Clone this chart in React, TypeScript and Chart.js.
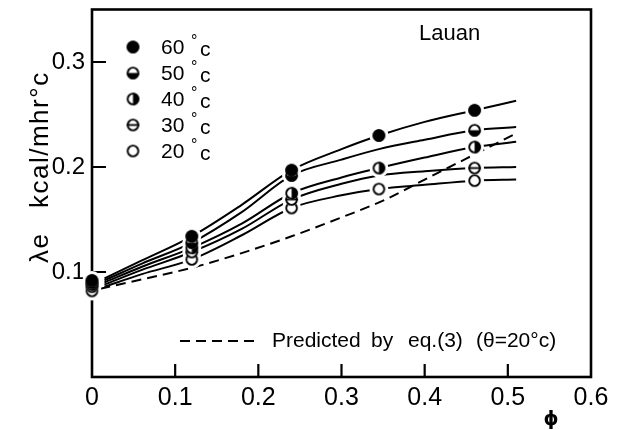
import { useEffect, useRef } from "react";
import { Chart, registerables } from "chart.js";
Chart.register(...registerables);

// ---- data ----
const xTicks = [0, 0.1, 0.2, 0.3, 0.4, 0.5, 0.6];
const yTicks = [0.1, 0.2, 0.3];
const seriesTemps = ["60", "50", "40", "30", "20"];
const markerKinds = ["full", "bottom", "right", "theta", "open"];

// smooth curves
const curvePhi = [0.015, 0.06, 0.12, 0.18, 0.24, 0.3, 0.345, 0.4, 0.46, 0.51];
const curve60 = [0.094, 0.111, 0.134, 0.164, 0.197, 0.217, 0.23, 0.243, 0.254, 0.263];
const curve50 = [0.092, 0.108, 0.128, 0.157, 0.192, 0.207, 0.217, 0.226, 0.235, 0.238];
const curve40 = [0.09, 0.105, 0.123, 0.146, 0.175, 0.19, 0.199, 0.209, 0.219, 0.224];
const curve30 = [0.088, 0.102, 0.119, 0.141, 0.169, 0.184, 0.192, 0.196, 0.199, 0.2];
const curve20 = [0.086, 0.098, 0.112, 0.135, 0.161, 0.173, 0.179, 0.183, 0.187, 0.188];

// predicted by eq.(3)
const predictedPhi = [0.01, 0.06, 0.12, 0.18, 0.24, 0.3, 0.35, 0.4, 0.45, 0.51];
const predicted = [0.084, 0.093, 0.104, 0.118, 0.134, 0.152, 0.168, 0.188, 0.208, 0.232];

// measured points
const pts60Phi = [0, 0.12, 0.24, 0.345, 0.46];
const pts60 = [0.092, 0.134, 0.197, 0.23, 0.254];
const pts50Phi = [0, 0.12, 0.24, 0.46];
const pts50 = [0.09, 0.128, 0.192, 0.235];
const pts40Phi = [0, 0.12, 0.24, 0.345, 0.46];
const pts40 = [0.088, 0.123, 0.175, 0.199, 0.219];
const pts30Phi = [0, 0.12, 0.24, 0.46];
const pts30 = [0.086, 0.119, 0.169, 0.199];
const pts20Phi = [0, 0.12, 0.24, 0.345, 0.46];
const pts20 = [0.082, 0.112, 0.161, 0.179, 0.187];

const curves = [curve60, curve50, curve40, curve30, curve20];
const ptsPhi = [pts60Phi, pts50Phi, pts40Phi, pts30Phi, pts20Phi];
const ptsVal = [pts60, pts50, pts40, pts30, pts20];

const toXY = (xs: number[], ys: number[]) => xs.map((x, i) => ({ x, y: ys[i] }));

function makeMarker(kind: string, r = 6.3) {
  const size = Math.ceil(r * 2 + 4);
  const c = document.createElement("canvas");
  c.width = size;
  c.height = size;
  const ctx = c.getContext("2d")!;
  const cx = size / 2;
  const cy = size / 2;
  ctx.fillStyle = "#fff";
  ctx.beginPath();
  ctx.arc(cx, cy, r, 0, Math.PI * 2);
  ctx.fill();
  ctx.fillStyle = "#000";
  ctx.strokeStyle = "#000";
  if (kind === "full") {
    ctx.beginPath();
    ctx.arc(cx, cy, r, 0, Math.PI * 2);
    ctx.fill();
  } else if (kind === "bottom") {
    ctx.beginPath();
    ctx.arc(cx, cy, r, 0, Math.PI);
    ctx.closePath();
    ctx.fill();
  } else if (kind === "right") {
    ctx.beginPath();
    ctx.arc(cx, cy, r, -Math.PI / 2, Math.PI / 2);
    ctx.closePath();
    ctx.fill();
  } else if (kind === "theta") {
    ctx.lineWidth = 1.8;
    ctx.beginPath();
    ctx.moveTo(cx - r, cy);
    ctx.lineTo(cx + r, cy);
    ctx.stroke();
  }
  ctx.lineWidth = 1.9;
  ctx.beginPath();
  ctx.arc(cx, cy, r - 0.95, 0, Math.PI * 2);
  ctx.stroke();
  return c;
}

export default function App() {
  const ref = useRef<HTMLCanvasElement | null>(null);
  useEffect(() => {
    document.body.style.margin = "0";
    const canvas = ref.current!;
    const markers = markerKinds.map((k) => makeMarker(k));
    const legendMarkers = markerKinds.map((k) => makeMarker(k, 6.3));
    const font = "'Liberation Sans', Arial, sans-serif";

    const lineSets: any[] = curves.map((c, i) => ({
      label: seriesTemps[i] + " °c curve",
      data: toXY(curvePhi, c),
      borderColor: "#000",
      borderWidth: 2,
      pointRadius: 0,
      cubicInterpolationMode: "monotone",
      fill: false,
    }));
    lineSets.push({
      label: "Predicted",
      data: toXY(predictedPhi, predicted),
      borderColor: "#000",
      borderWidth: 2,
      borderDash: [10, 6],
      pointRadius: 0,
      cubicInterpolationMode: "monotone",
      fill: false,
    });
    const haloSets = ptsPhi.map((xs, i) => ({
      label: seriesTemps[i] + " halo",
      data: toXY(xs, ptsVal[i]),
      showLine: false,
      pointStyle: "circle",
      pointRadius: 9.5,
      pointBackgroundColor: "#fff",
      pointBorderWidth: 0,
      borderWidth: 0,
      clip: false,
    }));
    const markerSets = ptsPhi.map((xs, i) => ({
      label: seriesTemps[i] + " °c",
      data: toXY(xs, ptsVal[i]),
      showLine: false,
      pointStyle: markers[i],
      pointRadius: 6,
      clip: false,
    }));

    const frame = {
      id: "frame",
      beforeDatasetsDraw(chart: any) {
        const { ctx, chartArea: a, scales } = chart;
        ctx.save();
        ctx.strokeStyle = "#000";
        ctx.lineWidth = 2.6;
        ctx.strokeRect(a.left, a.top, a.right - a.left, a.bottom - a.top);
        ctx.lineWidth = 2.2;
        ctx.beginPath();
        xTicks.forEach((v) => {
          if (v <= 0 || v >= 0.6) return;
          const px = scales.x.getPixelForValue(v);
          ctx.moveTo(px, a.bottom);
          ctx.lineTo(px, a.bottom - 13);
        });
        yTicks.forEach((v) => {
          const py = scales.y.getPixelForValue(v);
          ctx.moveTo(a.left, py);
          ctx.lineTo(a.left + 14, py);
        });
        ctx.stroke();
        ctx.restore();
      },
      afterDraw(chart: any) {
        const { ctx } = chart;
        ctx.save();
        ctx.fillStyle = "#000";
        ctx.strokeStyle = "#000";
        ctx.textBaseline = "middle";
        ctx.textAlign = "left";
        // legend
        const rows = [47, 73, 99, 125, 151];
        rows.forEach((y, i) => {
          const m = legendMarkers[i];
          ctx.drawImage(m, 133 - m.width / 2, y - m.height / 2);
          ctx.font = `21px ${font}`;
          ctx.fillText(seriesTemps[i], 161, y + 1);
          ctx.font = `16px ${font}`;
          ctx.fillText("°", 191, y - 5);
          ctx.font = `21px ${font}`;
          ctx.fillText("c", 200, y + 3);
        });
        // title
        ctx.font = `22px ${font}`;
        ctx.fillText("Lauan", 419, 34);
        // predicted legend
        ctx.save();
        ctx.strokeStyle = "#000";
        ctx.lineWidth = 2;
        ctx.setLineDash([10, 6]);
        ctx.beginPath();
        ctx.moveTo(180, 341);
        ctx.lineTo(260, 341);
        ctx.stroke();
        ctx.restore();
        ctx.font = `21px ${font}`;
        ctx.fillText("Predicted", 272, 341);
        ctx.fillText("by", 371, 341);
        ctx.fillText("eq.(3)", 408, 341);
        ctx.fillText("(θ=20°c)", 476, 341);
        // x-axis title
        ctx.textAlign = "center";
        ctx.font = `bold 19px 'DejaVu Sans', sans-serif`;
        ctx.fillText("ϕ", 551, 420);
        // y-axis title
        ctx.save();
        ctx.translate(48, 263);
        ctx.rotate(-Math.PI / 2);
        ctx.textAlign = "left";
        ctx.textBaseline = "alphabetic";
        ctx.font = `26px ${font}`;
        (ctx as any).letterSpacing = "1.5px";
        ctx.fillText("λe", 0, 0);
        ctx.fillText("kcal/mhr°c", 55, 0);
        ctx.restore();
        ctx.restore();
      },
    };

    const chart = new Chart(canvas, {
      type: "line",
      // datasets listed first are drawn on top
      data: { datasets: [...markerSets, ...haloSets, ...lineSets] as any },
      options: {
        animation: false,
        responsive: false,
        devicePixelRatio: 1,
        events: [],
        layout: { padding: { top: 8, right: 31, left: 0, bottom: 0 } },
        plugins: { legend: { display: false }, tooltip: { enabled: false } },
        scales: {
          x: {
            type: "linear",
            min: 0,
            max: 0.6,
            grid: { display: false, drawTicks: false },
            border: { display: false },
            afterBuildTicks: (s: any) => {
              s.ticks = xTicks.map((v) => ({ value: v }));
            },
            afterFit: (s: any) => {
              s.height = 53;
              s.paddingLeft = 0;
              s.paddingRight = 0;
            },
            ticks: {
              color: "#000",
              padding: 6,
              font: { family: font, size: 25 },
              maxRotation: 0,
              callback: (v: any) => (Number(v) === 0 ? "0" : Number(v).toFixed(1)),
            },
          },
          y: {
            type: "linear",
            min: 0,
            max: 0.35,
            grid: { display: false, drawTicks: false },
            border: { display: false },
            afterBuildTicks: (s: any) => {
              s.ticks = yTicks.map((v) => ({ value: v }));
            },
            afterFit: (s: any) => {
              s.width = 92;
              s.paddingTop = 0;
              s.paddingBottom = 0;
            },
            ticks: {
              color: "#000",
              padding: 7,
              font: { family: font, size: 24 },
              callback: (v: any) => Number(v).toFixed(1),
            },
          },
        },
      },
      plugins: [frame],
    });
    return () => chart.destroy();
  }, []);
  return <canvas ref={ref} width={622} height={430} style={{ display: "block" }} />;
}
